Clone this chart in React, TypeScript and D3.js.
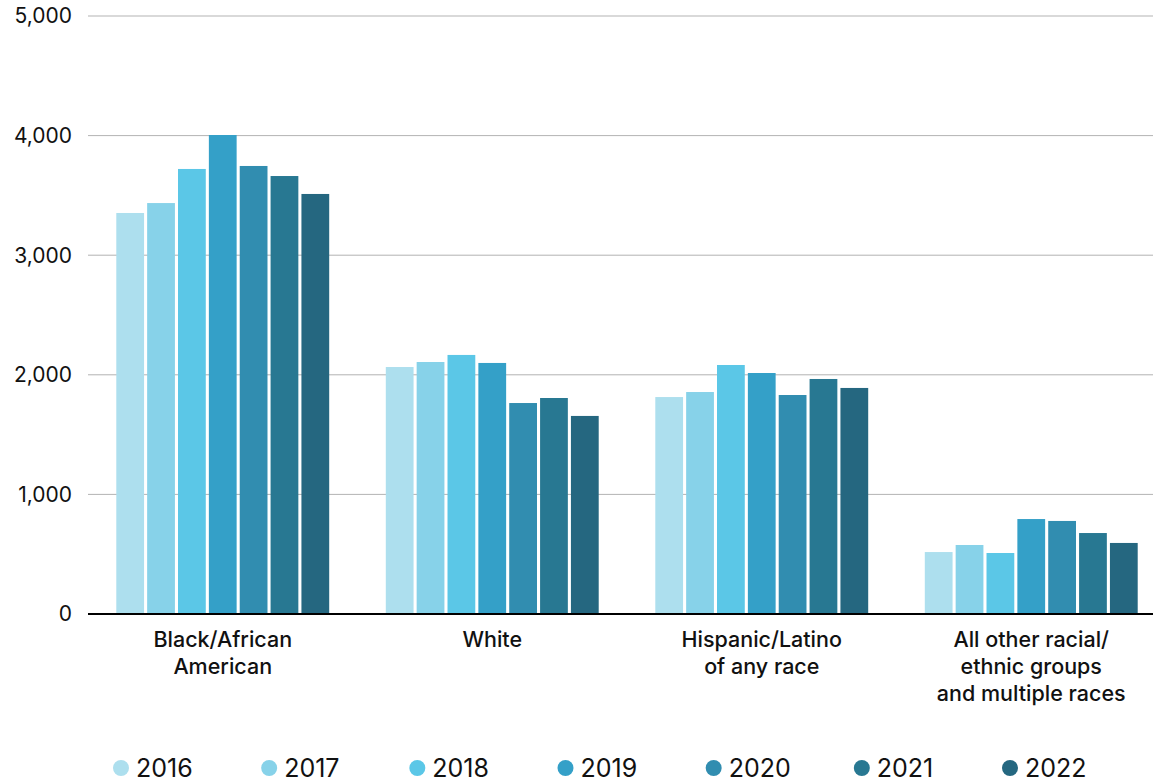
import { useEffect, useRef } from "react";
import * as d3 from "d3";

const categories = [
  ["Black/African", "American"],
  ["White"],
  ["Hispanic/Latino", "of any race"],
  ["All other racial/", "ethnic groups", "and multiple races"],
];

const years = ["2016", "2017", "2018", "2019", "2020", "2021", "2022"];

// one array per group, values in year order
const blackValues = [3353, 3436, 3721, 4005, 3746, 3662, 3512];
const whiteValues = [2065, 2107, 2166, 2099, 1764, 1806, 1656];
const hispanicValues = [1814, 1856, 2082, 2015, 1831, 1965, 1890];
const otherValues = [518, 577, 510, 794, 778, 677, 594];

const yTicks = [0, 1000, 2000, 3000, 4000, 5000];

const colors = ["#addfee", "#87d2e9", "#5bc7e7", "#34a0c8", "#318db0", "#287892", "#256780"];

const width = 1153;
const height = 783;

const App = () => {
  const svgRef = useRef<SVGSVGElement | null>(null);

  useEffect(() => {
    if (!svgRef.current) return;
    const svg = d3.select(svgRef.current);
    svg.selectAll("*").remove();

    const font = "Inter, 'Noto Sans', sans-serif";
    const groups = [blackValues, whiteValues, hispanicValues, otherValues];
    const ids = categories.map((_, i) => String(i));

    const margin = { top: 16, left: 88, right: 0, bottom: 169 };

    const x0 = d3.scaleBand().domain(ids).range([margin.left, margin.left + 1078]).paddingInner(0.21).paddingOuter(0.105);
    const x1 = d3.scaleBand().domain(years).range([0, x0.bandwidth()]).paddingInner(0.1);
    const y = d3.scaleLinear().domain([0, 5000]).range([height - margin.bottom, margin.top]);

    // grid
    svg
      .append("g")
      .selectAll("line")
      .data(yTicks.filter((t) => t > 0))
      .join("line")
      .attr("x1", margin.left)
      .attr("x2", width)
      .attr("y1", (d) => y(d))
      .attr("y2", (d) => y(d))
      .attr("stroke", "#b3b3b3")
      .attr("stroke-width", 1);

    // y tick labels
    svg
      .append("g")
      .selectAll("text")
      .data(yTicks)
      .join("text")
      .attr("x", 72)
      .attr("y", (d) => y(d))
      .attr("dy", "0.35em")
      .attr("text-anchor", "end")
      .attr("font-family", font)
      .attr("font-size", 21)
      .attr("fill", "#111")
      .text((d) => d3.format(",")(d));

    // bars
    const g = svg
      .append("g")
      .selectAll("g")
      .data(groups)
      .join("g")
      .attr("transform", (_, i) => `translate(${x0(String(i))},0)`);

    g.selectAll("rect")
      .data((d) => d)
      .join("rect")
      .attr("x", (_, i) => x1(years[i]) as number)
      .attr("width", x1.bandwidth())
      .attr("y", (d) => y(d))
      .attr("height", (d) => y(0) - y(d))
      .attr("fill", (_, i) => colors[i]);

    // baseline
    svg
      .append("line")
      .attr("x1", margin.left)
      .attr("x2", width)
      .attr("y1", y(0))
      .attr("y2", y(0))
      .attr("stroke", "#000")
      .attr("stroke-width", 2);

    // category labels
    const labels = svg
      .append("g")
      .selectAll("text")
      .data(categories)
      .join("text")
      .attr("x", (_, i) => (x0(String(i)) as number) + x0.bandwidth() / 2)
      .attr("y", y(0) + 33)
      .attr("text-anchor", "middle")
      .attr("font-family", font)
      .attr("font-size", 21.5)
      .attr("font-weight", 500)
      .attr("fill", "#111");
    labels
      .selectAll("tspan")
      .data((d) => d)
      .join("tspan")
      .attr("x", function () {
        return (this.parentNode as SVGTextElement).getAttribute("x");
      })
      .attr("dy", (_, i) => (i === 0 ? 0 : 27))
      .text((d) => d);

    // legend
    const legendX = d3.scalePoint().domain(years).range([121, 1010]);
    const leg = svg
      .append("g")
      .selectAll("g")
      .data(years)
      .join("g")
      .attr("transform", (d) => `translate(${legendX(d)},768)`);
    leg
      .append("circle")
      .attr("r", 8)
      .attr("fill", (_, i) => colors[i]);
    leg
      .append("text")
      .attr("x", 15)
      .attr("dy", "0.36em")
      .attr("font-family", font)
      .attr("font-size", 25)
      .attr("fill", "#111")
      .text((d) => d);
  }, []);

  return (
    <svg
      ref={svgRef}
      width={width}
      height={height}
      style={{ position: "absolute", left: 0, top: 0, background: "#fff" }}
    />
  );
};

export default App;
